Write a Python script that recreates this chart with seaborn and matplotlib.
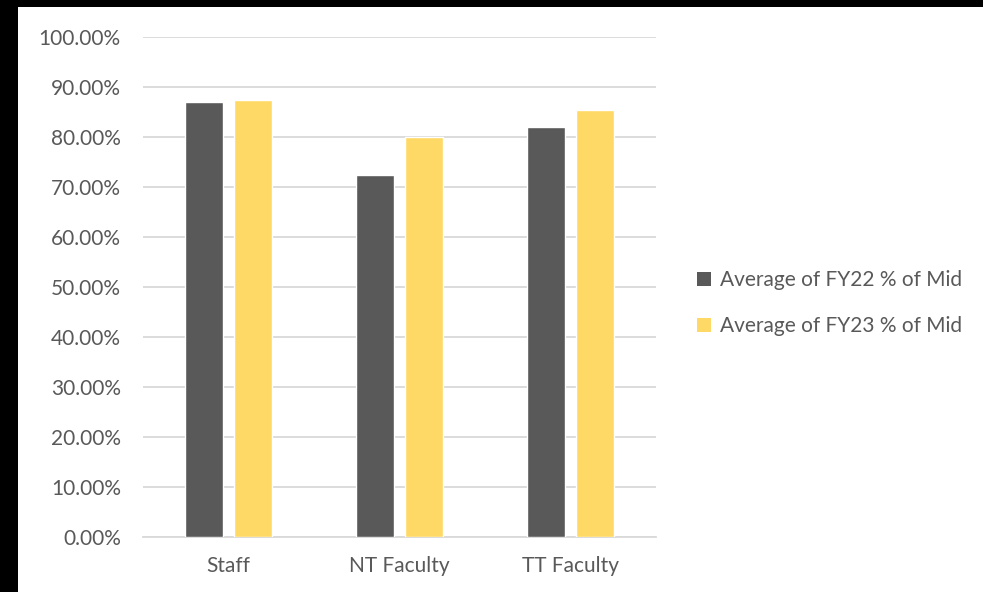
import matplotlib
matplotlib.use("Agg")
import matplotlib.pyplot as plt
import matplotlib.patches as mpatches
from matplotlib.ticker import PercentFormatter
import seaborn as sns
import pandas as pd

categories = ["Staff", "NT Faculty", "TT Faculty"]
series_names = ["Average of FY22 % of Mid", "Average of FY23 % of Mid"]
fy22 = [0.871, 0.725, 0.820]
fy23 = [0.875, 0.800, 0.854]
colors = ["#595959", "#FFD966"]
yticks = [0.0, 0.1, 0.2, 0.3, 0.4, 0.5, 0.6, 0.7, 0.8, 0.9, 1.0]

df = pd.DataFrame({
    "cat": categories * 2,
    "series": [series_names[0]] * 3 + [series_names[1]] * 3,
    "val": fy22 + fy23,
})

sns.set_theme(style="white")
plt.rcParams["font.family"] = ["Lato", "DejaVu Sans"]
text_color = "#595959"
fs = 15

W, H = 983, 592
fig = plt.figure(figsize=(W / 100, H / 100), dpi=100, facecolor="black")
fig.patches.append(mpatches.Rectangle((18 / W, 0), 1 - 18 / W, 1 - 7 / H,
                                      transform=fig.transFigure, facecolor="white",
                                      edgecolor="none", zorder=-10))
ax = fig.add_axes([143 / W, 1 - 537 / H, (656 - 143) / W, (537 - 37) / H])
ax.set_facecolor("white")
ax.patch.set_alpha(0)

sns.barplot(data=df, x="cat", y="val", hue="series", order=categories,
            hue_order=series_names, palette=colors, width=0.57, gap=0.22,
            saturation=1, ax=ax, legend=False, zorder=3)

ax.set_xlim(-0.5, 2.5)
ax.set_ylim(0, 1.0)
ax.set_yticks(yticks)
ax.yaxis.set_major_formatter(PercentFormatter(1.0, decimals=2))
ax.grid(axis="y", color="#D9D9D9", linewidth=1.3, zorder=0)
ax.set_axisbelow(True)
for s in ["top", "right", "left"]:
    ax.spines[s].set_visible(False)
ax.spines["bottom"].set_color("#D9D9D9")
ax.spines["bottom"].set_linewidth(1.3)
ax.tick_params(axis="y", length=0, pad=16, labelsize=fs, labelcolor=text_color)
ax.tick_params(axis="x", length=0, pad=14, labelsize=fs, labelcolor=text_color)
ax.set_xlabel("")
ax.set_ylabel("")

handles = [mpatches.Patch(facecolor=c, edgecolor="none", label=l)
           for c, l in zip(colors, series_names)]
leg = fig.legend(handles=handles, loc="center left",
                 bbox_to_anchor=(697 / W, 1 - 303 / H), frameon=False,
                 fontsize=fs, labelcolor=text_color, handlelength=0.65,
                 handleheight=0.65, handletextpad=0.45, labelspacing=1.25,
                 borderaxespad=0, borderpad=0)

fig.savefig("out.png", dpi=100, facecolor="black")
